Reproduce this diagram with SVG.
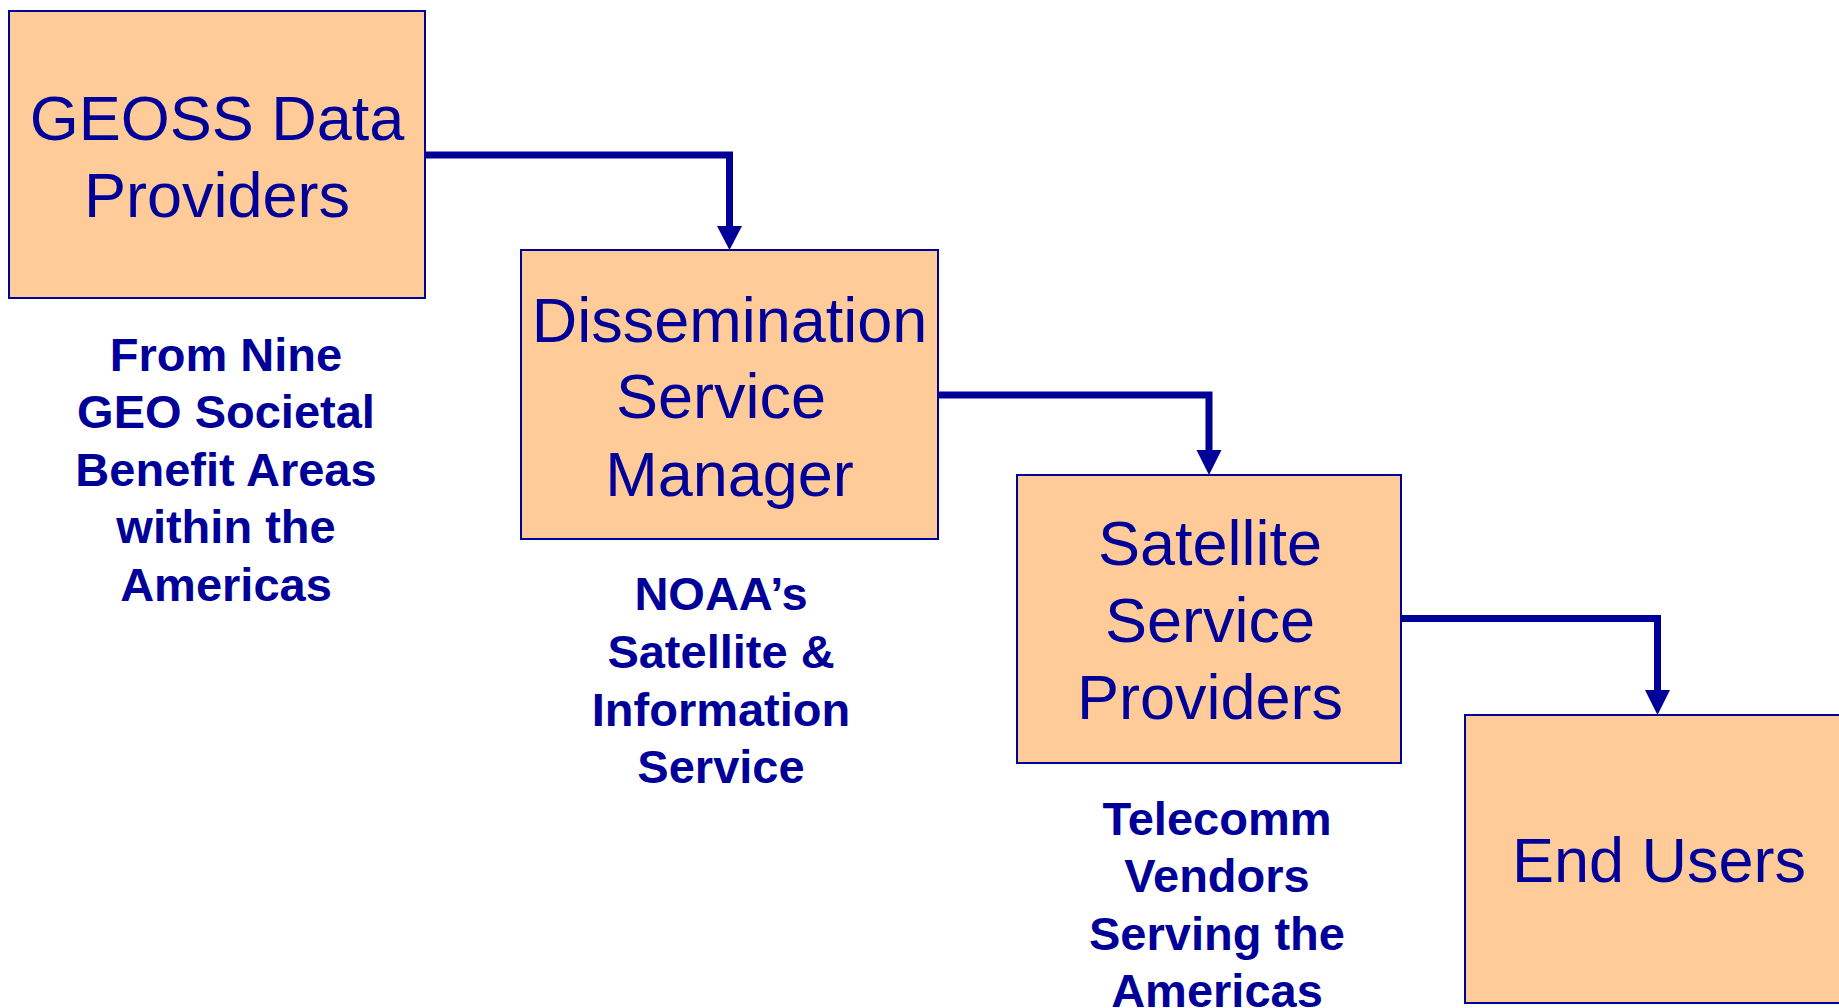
<svg xmlns="http://www.w3.org/2000/svg" width="1839" height="1008" viewBox="0 0 1839 1008">
<style>
.box{fill:#FFCC99;stroke:#000099;stroke-width:2}
.t{font-family:"Liberation Sans",Arial,sans-serif;font-size:63px;fill:#000099;text-anchor:middle}
.l{font-family:"Liberation Sans",Arial,sans-serif;font-size:47px;font-weight:bold;fill:#000099;text-anchor:middle}
.c{fill:none;stroke:#000099;stroke-width:7}
.h{fill:#000099}
</style>
<rect width="1839" height="1008" fill="#ffffff"/>
<g id="connectors">
<path class="c" d="M425,155 H729.5 V229"/>
<path class="h" d="M717,226 L742,226 L729.5,250 Z"/>
<path class="c" d="M938,395 H1209 V453"/>
<path class="h" d="M1196.5,450 L1221.5,450 L1209,475 Z"/>
<path class="c" d="M1401,618.5 H1657.5 V693"/>
<path class="h" d="M1645,690 L1670,690 L1657.5,715 Z"/>
</g>
<g id="geoss">
<rect class="box" x="9" y="11" width="416" height="287"/>
<text class="t" x="217" y="140">GEOSS Data</text>
<text class="t" x="217" y="217">Providers</text>
</g>
<g id="dsm">
<rect class="box" x="521" y="250" width="417" height="289"/>
<text class="t" x="729.5" y="342">Dissemination</text>
<text class="t" x="721" y="418">Service</text>
<text class="t" x="729.5" y="496">Manager</text>
</g>
<g id="ssp">
<rect class="box" x="1017" y="475" width="384" height="288"/>
<text class="t" x="1210" y="565">Satellite</text>
<text class="t" x="1210" y="642">Service</text>
<text class="t" x="1210" y="719">Providers</text>
</g>
<g id="endusers">
<rect class="box" x="1465" y="715" width="390" height="288"/>
<text class="t" x="1659" y="882">End Users</text>
</g>
<g id="label-geoss">
<text class="l" x="226" y="371">From Nine</text>
<text class="l" x="226" y="428">GEO Societal</text>
<text class="l" x="226" y="486">Benefit Areas</text>
<text class="l" x="226" y="543">within the</text>
<text class="l" x="226" y="601">Americas</text>
</g>
<g id="label-noaa">
<text class="l" x="721" y="610">NOAA’s</text>
<text class="l" x="721" y="668">Satellite &amp;</text>
<text class="l" x="721" y="726">Information</text>
<text class="l" x="721" y="783">Service</text>
</g>
<g id="label-telecomm">
<text class="l" x="1217" y="835">Telecomm</text>
<text class="l" x="1217" y="892">Vendors</text>
<text class="l" x="1217" y="950">Serving the</text>
<text class="l" x="1217" y="1007">Americas</text>
</g>
</svg>
